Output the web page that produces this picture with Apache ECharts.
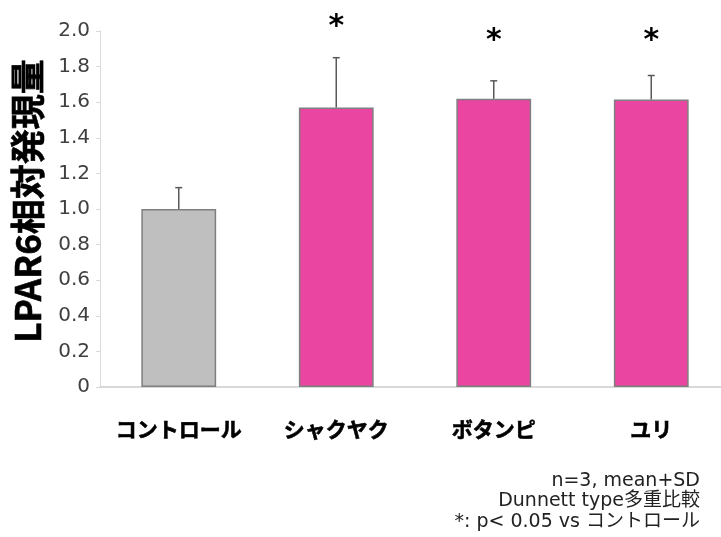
<!DOCTYPE html>
<html>
<head>
<meta charset="utf-8">
<script src="https://cdn.jsdelivr.net/npm/echarts@6/dist/echarts.min.js"></script>
<style>html,body{margin:0;padding:0;background:#fff;}#c{width:721px;height:537px;}</style>
</head>
<body>
<div id="c"></div>
<script>
// ---- data ----
const categories = ['コントロール', 'シャクヤク', 'ボタンピ', 'ユリ'];
const means = [1.00, 1.57, 1.62, 1.615];
const sds = [0.12, 0.28, 0.10, 0.135];
const significant = [false, true, true, true];
const starY = [null, 2.02, 1.94, 1.94];
const yTicks = [0, 0.2, 0.4, 0.6, 0.8, 1.0, 1.2, 1.4, 1.6, 1.8, 2.0];
const yAxisTitle = 'LPAR6相対発現量';
const notes = ['n=3, mean+SD', 'Dunnett type多重比較', '*: p< 0.05 vs コントロール'];
const barColors = ['#bfbfbf', '#ea45a1', '#ea45a1', '#ea45a1'];

const chart = echarts.init(document.getElementById('c'), null, {renderer: 'canvas'});

const errData = means.map((m, i) => [i, m, m + sds[i]]);
const starData = categories.map((c, i) => significant[i] ? [i, starY[i]] : null).filter(d => d);

const option = {
  animation: false,
  backgroundColor: '#ffffff',
  grid: {left: 100, top: 31, width: 630, height: 356, containLabel: false, outerBoundsMode: 'none'},
  xAxis: {
    type: 'category',
    data: categories,
    boundaryGap: true,
    axisLine: {show: true, lineStyle: {color: '#d9d9d9', width: 2}},
    axisTick: {show: false},
    axisLabel: {
      interval: 0,
      margin: 32,
      fontSize: 21,
      fontWeight: 'bold',
      color: '#000000',
      textBorderColor: '#000000',
      textBorderWidth: 0.6,
      fontFamily: 'Noto Sans CJK JP'
    }
  },
  yAxis: {
    type: 'value',
    min: yTicks[0],
    max: yTicks[yTicks.length - 1],
    interval: 0.2,
    splitLine: {show: false},
    axisLine: {show: true, lineStyle: {color: '#d9d9d9', width: 1}},
    axisTick: {show: true, length: 4, lineStyle: {color: '#d9d9d9'}},
    axisLabel: {
      margin: 10,
      fontSize: 20,
      color: '#404040',
      fontFamily: 'DejaVu Sans',
      formatter: v => (v === 0 ? '0' : v.toFixed(1))
    }
  },
  graphic: [
    {
      type: 'text',
      x: 28, y: 201,
      rotation: Math.PI / 2,
      style: {
        text: yAxisTitle,
        fontSize: 35,
        fontWeight: 'bold',
        fontFamily: 'Noto Sans CJK JP',
        fill: '#000000',
        stroke: '#000000',
        lineWidth: 0.6,
        align: 'center',
        verticalAlign: 'middle'
      }
    },
    ...notes.map((t, i) => ({
      type: 'text',
      x: 700,
      y: 481 + i * 20.5,
      style: {
        text: t,
        fontSize: 19,
        fontFamily: 'DejaVu Sans, Noto Sans CJK JP',
        fill: '#222222',
        align: 'right',
        verticalAlign: 'middle'
      }
    }))
  ],
  series: [
    {
      type: 'bar',
      data: means.map((m, i) => ({value: m, itemStyle: {color: barColors[i]}})),
      barWidth: '47.5%',
      itemStyle: {borderColor: '#7f7f7f', borderWidth: 1.5},
      z: 2
    },
    {
      type: 'custom',
      data: errData,
      z: 3,
      renderItem: function (params, api) {
        const x = api.value(0);
        const lo = api.coord([x, api.value(1)]);
        const hi = api.coord([x, api.value(2)]);
        const cap = 3.5;
        return {
          type: 'group',
          children: [
            {type: 'line', shape: {x1: lo[0], y1: lo[1], x2: hi[0], y2: hi[1]}, style: {stroke: '#595959', lineWidth: 1.5}},
            {type: 'line', shape: {x1: hi[0] - cap, y1: hi[1], x2: hi[0] + cap, y2: hi[1]}, style: {stroke: '#595959', lineWidth: 1.5}}
          ]
        };
      }
    },
    {
      type: 'custom',
      data: starData,
      z: 4,
      renderItem: function (params, api) {
        const p = api.coord([api.value(0), api.value(1)]);
        return {
          type: 'text',
          x: p[0], y: p[1],
          style: {
            text: '*',
            fontSize: 30,
            fontWeight: 'bold',
            fontFamily: 'DejaVu Sans',
            fill: '#000000',
            align: 'center',
            verticalAlign: 'middle'
          }
        };
      }
    }
  ]
};
chart.setOption(option);
</script>
</body>
</html>
